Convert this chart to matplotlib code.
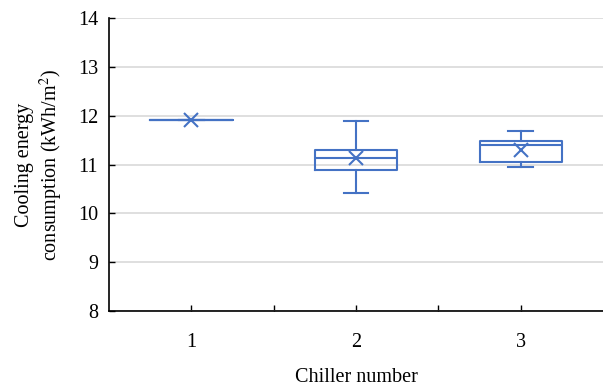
import matplotlib.pyplot as plt

chillers = ["1", "2", "3"]
whislo = [11.92, 10.41, 10.95]
q1 = [11.92, 10.89, 11.05]
med = [11.92, 11.13, 11.40]
q3 = [11.92, 11.30, 11.48]
whishi = [11.92, 11.89, 11.68]
means = [11.92, 11.13, 11.30]

blue = "#4472C4"
plt.rcParams['font.family'] = ['Liberation Serif', 'DejaVu Serif']
plt.rcParams['mathtext.fontset'] = 'stix'

fig = plt.figure(figsize=(6.03, 3.89), dpi=100)
ax = fig.add_axes([0.181, 0.2, 0.819, 0.754])

stats = []
for i in range(len(chillers)):
    stats.append(dict(label=chillers[i], whislo=whislo[i], q1=q1[i], med=med[i],
                      q3=q3[i], whishi=whishi[i], mean=means[i], fliers=[]))

ax.bxp(stats, positions=[1, 2, 3], widths=0.5, showmeans=True, patch_artist=False,
       boxprops=dict(color=blue, linewidth=1.5),
       whiskerprops=dict(color=blue, linewidth=1.5),
       capprops=dict(color=blue, linewidth=1.5),
       medianprops=dict(color=blue, linewidth=1.5),
       meanprops=dict(marker='x', markeredgecolor=blue, markersize=10, markeredgewidth=1.5),
       capwidths=0.15, zorder=3)

ax.set_xlim(0.5, 3.5)
ax.set_ylim(8, 14)
ax.set_yticks(range(8, 15))
ax.set_xticks([1, 1.5, 2, 2.5, 3])
ax.set_xticklabels(["1", "", "2", "", "3"])
ax.grid(axis='y', color='#d9d9d9', linewidth=1.2, zorder=0)
ax.set_axisbelow(True)
for s in ['top', 'right']:
    ax.spines[s].set_visible(False)
for s in ['left', 'bottom']:
    ax.spines[s].set_linewidth(1.2)
ax.tick_params(axis='both', direction='in', length=4, labelsize=14.5, width=1)
ax.tick_params(axis='y', pad=8)
ax.tick_params(axis='x', pad=16)

ax.set_xlabel("Chiller number", fontsize=14.5, labelpad=11)
ax.set_ylabel("Cooling energy\nconsumption (kWh/m$^2$)", fontsize=14.5, labelpad=9,
              multialignment='center')

fig.savefig("out.png", dpi=100)
